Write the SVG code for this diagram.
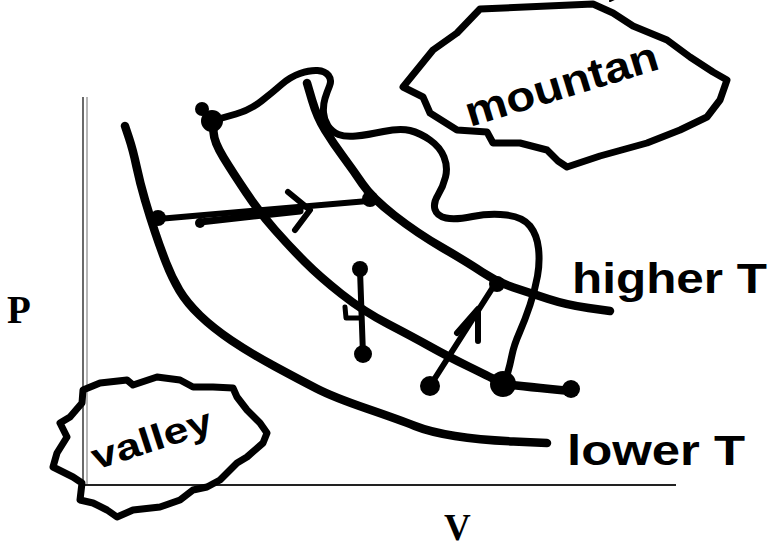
<svg xmlns="http://www.w3.org/2000/svg" width="770" height="549" viewBox="0 0 770 549">
<style>
.ink{fill:none;stroke:#000;stroke-linecap:round;stroke-linejoin:round}
.curve{stroke-width:8.5}
.outline{stroke-width:7}
.arrow{stroke-width:6}
.dot{fill:#000}
.hand{font-family:"Liberation Sans","DejaVu Sans",sans-serif;font-weight:bold;fill:#000}
.axlabel{font-family:"Liberation Serif","Times New Roman",serif;font-weight:bold;fill:#000}
</style>
<rect width="770" height="549" fill="#fff"/>
<g id="axes">
<line x1="83" y1="97" x2="83" y2="486" stroke="#444" stroke-width="1.6"/>
<line x1="87" y1="97" x2="87" y2="486" stroke="#999" stroke-width="1.4"/>
<line x1="83" y1="485" x2="676" y2="485" stroke="#222" stroke-width="2"/>
<text class="axlabel" x="7" y="323" font-size="39">P</text>
<text class="axlabel" x="444" y="540" font-size="37">V</text>
</g>
<g id="mountain-region">
<polygon class="ink outline" points="480,9 593,4 613,13 633,26 667,40 690,57 713,72 727,80 720,100 707,117 680,130 647,143 600,156 567,167 558,161 547,150 520,143 493,143 487,132 457,130 430,113 423,97 403,87 433,50 457,33"/>
<line class="ink" x1="610" y1="1" x2="619" y2="-3" stroke-width="2"/>
<text class="hand" font-size="42" x="470" y="127" textLength="200" lengthAdjust="spacingAndGlyphs" transform="rotate(-17 470 127)">mountan</text>
</g>
<g id="valley-region">
<polygon class="ink outline" points="83,390 100,383 127,380 133,385 157,377 180,380 193,387 213,387 233,388 237,397 247,410 260,423 267,433 263,443 247,457 237,463 220,480 207,487 193,490 180,500 160,507 133,510 117,517 107,510 93,503 80,500 82,483 73,477 53,467 57,453 67,437 60,423 70,417 82,403"/>
<text class="hand" font-size="36" x="96" y="470" textLength="125" lengthAdjust="spacingAndGlyphs" transform="rotate(-18 96 470)">valley</text>
</g>
<g id="isotherms">
<path id="lower-T-curve" class="ink curve" d="M125,126 L129,138 Q133,150 136.5,166.5 Q140,183 145,200 Q150,217 155,232 Q160,247 166,262.5 Q172,278 179.5,290.5 Q187,303 200,315.5 Q213,328 231.5,340.5 Q250,353 275,366.5 Q300,380 316.5,388.5 Q333,397 366.5,408.5 Q400,420 415,426 Q430,432 455,436 Q480,440 513.5,441.5 L547,443"/>
<path id="middle-curve" class="ink curve" d="M213,122 L213.5,132 Q214,142 223.5,157.5 Q233,173 246.5,193 Q260,213 275,230 Q290,247 305,262 Q320,277 341.5,294 Q363,311 388,324 Q413,337 430,346.5 Q447,356 468.5,366.5 Q490,377 496.5,380.5 Q503,384 516.5,385.5 Q530,387 550,389 L570,391"/>
<path id="higher-T-curve" class="ink curve" d="M307,83 L312,100 Q317,117 325,130 Q333,143 343,156.5 Q353,170 362.5,184 Q372,198 394.5,215.5 Q417,233 442,247.5 Q467,262 482,272 Q497,282 513.5,287.5 Q530,293 548.5,299 Q567,305 588.5,308 L610,311"/>
<text class="hand" font-size="42" x="572" y="293" textLength="195" lengthAdjust="spacingAndGlyphs">higher T</text>
<text class="hand" font-size="42" x="567" y="465" textLength="178" lengthAdjust="spacingAndGlyphs">lower T</text>
</g>
<g id="ridge-path">
<path class="ink outline" d="M222,118 L236,114 Q250,110 261.5,101 Q273,92 281.5,84.5 Q290,77 300,73.5 Q310,70 317.5,70.5 Q325,71 328.5,75.5 Q332,80 329.5,86 Q327,92 325,98.5 Q323,105 323.5,112.5 Q324,120 328,126 Q332,132 338.5,134.5 Q345,137 356,136 Q367,135 383.5,131.5 Q400,128 410,130.5 Q420,133 430,140 Q440,147 444,157 Q448,167 445.5,177 Q443,187 438,195 Q433,203 435,209.5 Q437,216 446,218 Q455,220 472.5,216.5 Q490,213 506.5,215 Q523,217 530,226 Q537,235 538.5,248.5 Q540,262 537.5,276 Q535,290 530,305 Q525,320 519.5,332.5 Q514,345 512,355 Q510,365 507.5,373.5 L505,382"/>
</g>
<g id="connectors">
<path class="ink arrow" d="M158,219 L368,201"/>
<path class="ink" stroke-width="7" d="M200,222 L300,211"/>
<path class="ink arrow" d="M288,192 L310,210 L295,230"/>
<path class="ink arrow" d="M360,270 L363,355"/>
<path class="ink" stroke-width="5" d="M345,307 L346,318 L361,318"/>
<path class="ink arrow" d="M430,386 L495,284"/>
<path class="ink arrow" d="M457,333 L478,309 L478,341"/>
</g>
<g id="points">
<circle class="dot" cx="212" cy="121" r="11"/>
<circle class="dot" cx="202" cy="109" r="7"/>
<circle class="dot" cx="158" cy="218" r="8"/>
<circle class="dot" cx="200" cy="223" r="5"/>
<circle class="dot" cx="370" cy="199" r="8"/>
<circle class="dot" cx="497" cy="284" r="8"/>
<circle class="dot" cx="360" cy="269" r="8"/>
<circle class="dot" cx="363" cy="354" r="9"/>
<circle class="dot" cx="430" cy="386" r="10"/>
<circle class="dot" cx="503" cy="384" r="13"/>
<circle class="dot" cx="571" cy="389" r="9"/>
</g>
</svg>
